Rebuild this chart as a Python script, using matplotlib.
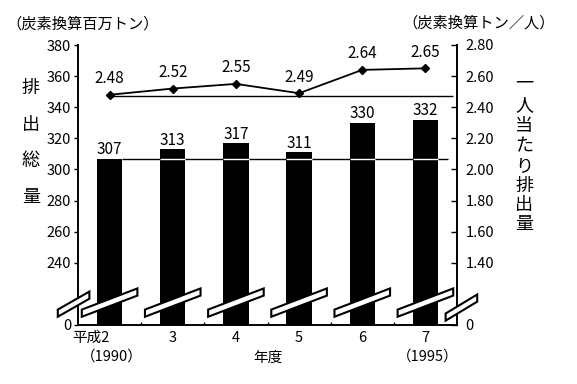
import matplotlib
matplotlib.use('Agg')
import matplotlib.pyplot as plt
from matplotlib.patches import Polygon
from matplotlib.transforms import blended_transform_factory

plt.rcParams['font.family'] = ['Noto Sans CJK JP', 'DejaVu Sans']

# data
year_labels = ["平成2", "3", "4", "5", "6", "7"]
year_notes = ["（1990）", "", "", "", "", "（1995）"]
total_emissions = [307, 313, 317, 311, 330, 332]        # 炭素換算百万トン
per_capita = [2.48, 2.52, 2.55, 2.49, 2.64, 2.65]        # 炭素換算トン／人
left_ticks = [240, 260, 280, 300, 320, 340, 360, 380]
right_ticks = [1.40, 1.60, 1.80, 2.00, 2.20, 2.40, 2.60, 2.80]
left_base = 200    # shown as 0 below the axis break
right_base = 1.0   # shown as 0 below the axis break
ref_total = 307
ref_capita = 2.47

W, H = 577, 384
fig = plt.figure(figsize=(W / 100, H / 100), dpi=100)
ax = fig.add_axes([78 / W, 1 - 325 / H, (457 - 78) / W, (325 - 45) / H])
ax2 = ax.twinx()

def fx(px):
    return px / W

def fy(py):
    return 1 - py / H

x = list(range(len(year_labels)))
bw = 0.4
ax.bar(x, [v - left_base for v in total_emissions], bw, bottom=left_base,
       color='black', zorder=2)
ax.set_xlim(-0.5, 5.5)
ax.set_ylim(left_base, 380)
ax2.set_ylim(right_base, 2.8)

# reference line at 1990 level (white where it crosses bars)
ax.hlines(ref_total, bw / 2, 5.35, color='black', lw=1.0, zorder=3)
for i in x[1:]:
    ax.hlines(ref_total, i - bw / 2, i + bw / 2, color='white', lw=1.0, zorder=4)

for i, v in zip(x, total_emissions):
    ax.text(i, v + 2.8, str(v), ha='center', va='baseline', fontsize=11, zorder=5)

ax2.plot(x, per_capita, color='black', lw=1.3, marker='D', ms=4.5, zorder=4)
ax2.hlines(ref_capita, 0, 5.43, color='black', lw=1.0, zorder=3)
for i, v in zip(x, per_capita):
    ax2.text(i, v + 0.075, f"{v:.2f}", ha='center', va='baseline', fontsize=11)

# axes and ticks
ax.set_yticks([left_base] + left_ticks)
ax.set_yticklabels(["0"] + [str(t) for t in left_ticks], fontsize=10.5)
ax2.set_yticks([right_base] + right_ticks)
ax2.set_yticklabels(["0"] + [f"{t:.2f}" for t in right_ticks], fontsize=10.5)
ax.tick_params(axis='y', direction='out', length=3, width=1, pad=2)
ax2.tick_params(axis='y', direction='in', length=4, width=1, pad=6)
ax.set_xticks(x)
ax.set_xticklabels(year_labels, fontsize=10.5)
ax.tick_params(axis='x', length=0, pad=4)
ax.set_xticks([i + 0.5 for i in x[:-1]], minor=True)
ax.tick_params(axis='x', which='minor', direction='in', length=2, width=1)
for a in (ax, ax2):
    a.spines['top'].set_visible(False)
    for s in ('left', 'right', 'bottom'):
        a.spines[s].set_linewidth(1.2)

# first tick label shifted so the digit sits under the bar
lbl0 = ax.get_xticklabels()[0]
lbl0.set_ha('right')
lbl0.set_position((0.2, 0))

tr = blended_transform_factory(ax.transData, fig.transFigure)
for i, note in zip(x, year_notes):
    if note:
        ax.text(i + 0.03, fy(357), note, transform=tr, ha='center', va='center', fontsize=10.5)
ax.text(2.5, fy(358), "年度", transform=tr, ha='center', va='center', fontsize=10.5)

# break marks (white band with black edges)
def brk(xc, yc, hw, hh, t=2.3):
    pts = [(xc - hw, yc - hh - t), (xc + hw, yc + hh - t),
           (xc + hw, yc + hh + t), (xc - hw, yc - hh + t)]
    ax2.add_patch(Polygon(pts, closed=True, facecolor='white', edgecolor='black',
                          lw=1.5, transform=ax.transData, clip_on=False, zorder=6))

for i in x:
    brk(i, 214.4, 0.44, 6.8)
brk(-0.57, 213.4, 0.25, 5.8)
brk(5.57, 211.2, 0.25, 6.1)

# unit captions
fig.text(fx(6), fy(24), "（炭素換算百万トン）", ha='left', va='center', fontsize=11)
fig.text(fx(402), fy(23), "（炭素換算トン／人）", ha='left', va='center', fontsize=11)

# vertical axis titles
for ch, py in zip("排出総量", [88, 125, 161, 197]):
    fig.text(fx(31), fy(py), ch, ha='center', va='center', fontsize=13)
for ch, py in zip("一人当たり排出量", [84, 105, 126, 146, 166, 186, 205, 224]):
    fig.text(fx(524), fy(py), ch, ha='center', va='center', fontsize=13)

fig.savefig('out.png', dpi=100)
